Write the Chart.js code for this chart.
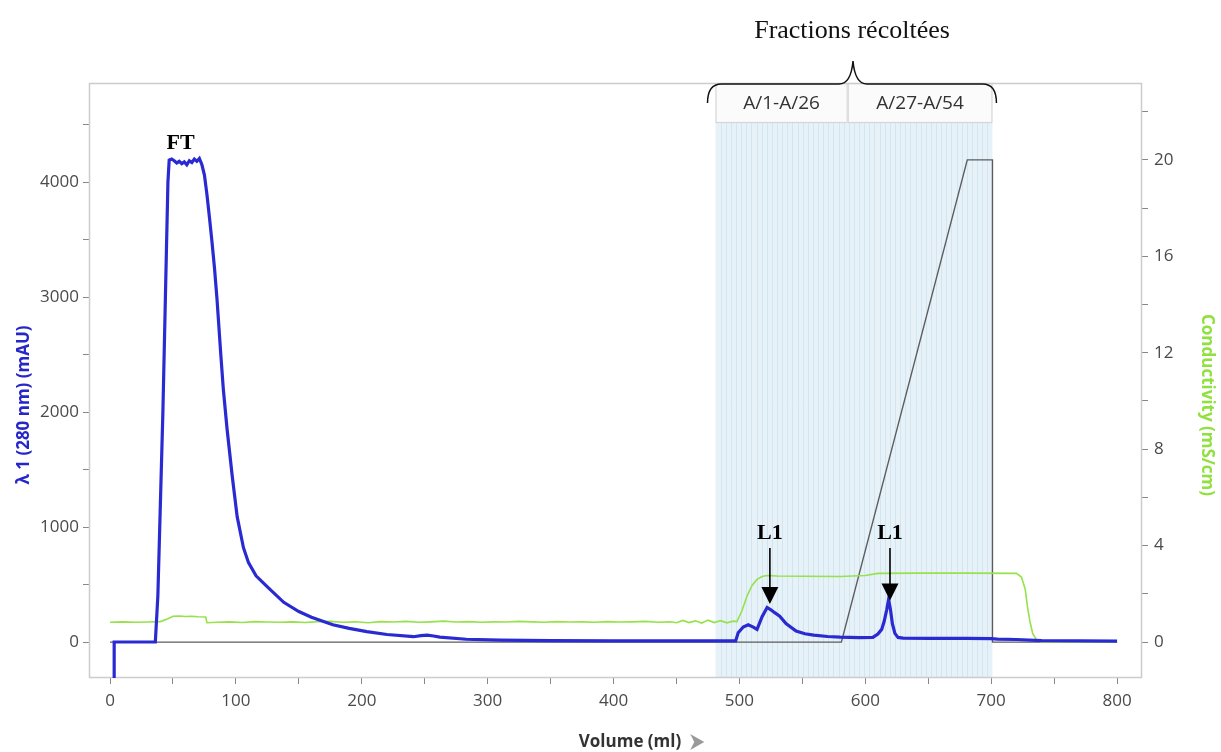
<!DOCTYPE html>
<html><head><meta charset="utf-8">
<script src="https://cdn.jsdelivr.net/npm/chart.js@4/dist/chart.umd.min.js"></script>
<style>html,body{margin:0;padding:0;background:#fff}#wrap{width:1221px;height:752px;position:relative}</style>
</head><body><div id="wrap"><canvas id="c"></canvas></div>
<script>
// ---- data ----
const uvVolume = [3.2,3.3,36,38,40,42,44,46,47,49,51,53,55,57,59,61,63,65,67,69,71,73,75,77,79,81,83,85,88,90,93,97,101,106,110,116,125,138,150,160,177,190,204,220,241,247,252,257,262,283,310,350,400,450,497,499,503,507,511,514,518,522,525,528,532,537,545,552,559,570,580,595,606,610,613,615,617,618.5,620,621.5,623.5,626,630,650,680,700,705,720,740,800];
const uvValue  = [-700,0,0,400,1200,2000,3000,4000,4190,4200,4185,4165,4180,4160,4175,4150,4185,4170,4200,4180,4205,4150,4060,3890,3690,3480,3250,2980,2500,2200,1850,1450,1090,820,690,575,480,345,265,215,150,118,90,65,46,55,60,52,42,24,16,12,10,10,10,80,130,150,130,110,220,300,280,255,225,160,95,72,60,48,42,38,40,70,110,180,280,370,280,160,75,40,34,32,32,30,25,22,12,8];
const condVolume = [0,10,20,30,40,46,50,55,60,65,70,76,77,85,95,105,115,125,135,145,155,165,175,185,195,205,215,225,235,245,255,265,275,285,295,305,315,325,335,345,355,365,375,385,395,405,415,425,435,445,450,455,460,465,470,475,480,485,490,495,498,502,506,510,514,518,522,530,550,580,600,610,640,680,720,724,727,729,731,733,736,740,800];
const condValue  = [0.82,0.84,0.82,0.83,0.85,0.97,1.07,1.08,1.06,1.07,1.05,1.04,0.80,0.82,0.84,0.81,0.85,0.83,0.82,0.84,0.81,0.85,0.86,0.82,0.84,0.80,0.85,0.83,0.86,0.82,0.84,0.87,0.83,0.85,0.82,0.84,0.83,0.86,0.84,0.82,0.85,0.83,0.84,0.82,0.85,0.83,0.84,0.86,0.82,0.84,0.80,0.90,0.81,0.88,0.79,0.91,0.81,0.89,0.80,0.87,0.85,1.30,1.90,2.35,2.60,2.72,2.76,2.74,2.73,2.72,2.76,2.85,2.86,2.86,2.85,2.70,2.20,1.40,0.80,0.35,0.10,0,0];
const gradVolume = [0,581,681,701,701.01,800];
const gradValue  = [0,0,20,20,0,0];

const xTicks = [0,50,100,150,200,250,300,350,400,450,500,550,600,650,700,750,800];
const xTickLabels = [0,100,200,300,400,500,600,700,800];
const leftTicks = [0,500,1000,1500,2000,2500,3000,3500,4000,4500];
const leftTickLabels = [0,1000,2000,3000,4000];
const rightTicks = [0,2,4,6,8,10,12,14,16,18,20,22];
const rightTickLabels = [0,4,8,12,16,20];

const fractionLabels = ['A/1-A/26','A/27-A/54'];
const fractionBounds = [481,586,701];
const fractionCount = 54;

const annotations = [
  {text:'FT', x:56, y:4340},
  {text:'L1', x:524.2, y:948, tail:817, tip:330},
  {text:'L1', x:619.6, y:948, tail:817, tip:360}
];
const topTitle = 'Fractions récoltées';
const leftTitle = 'λ 1 (280 nm) (mAU)';
const rightTitle = 'Conductivity (mS/cm)';
const xTitle = 'Volume (ml)';

const pts = (xs, ys) => xs.map((v,i)=>({x:v, y:ys[i]}));

const deco = {
  id:'deco',
  beforeDatasetsDraw(chart){
    const {ctx, chartArea:a, scales:{x}} = chart;
    const x0 = x.getPixelForValue(fractionBounds[0]);
    const x1 = x.getPixelForValue(fractionBounds[1]);
    const x2 = x.getPixelForValue(fractionBounds[2]);
    const boxTop = a.top, boxBottom = a.top + 40;
    ctx.save();
    ctx.fillStyle = '#e6f1f8';
    ctx.fillRect(x0, boxBottom, x2-x0, a.bottom-boxBottom);
    ctx.strokeStyle = '#d2e5f1'; ctx.lineWidth = 1;
    for (let i=1;i<fractionCount;i++){
      const v = fractionBounds[0] + (fractionBounds[2]-fractionBounds[0])*i/fractionCount;
      const px = Math.round(x.getPixelForValue(v))+0.5;
      ctx.beginPath(); ctx.moveTo(px, boxBottom); ctx.lineTo(px, a.bottom); ctx.stroke();
    }
    const boxes = [[x0,x1],[x1,x2]];
    ctx.font = '19px "Open Sans", sans-serif';
    ctx.textAlign='center'; ctx.textBaseline='middle';
    boxes.forEach((b,i)=>{
      ctx.fillStyle='#fbfbfb'; ctx.fillRect(b[0], boxTop, b[1]-b[0], boxBottom-boxTop);
      ctx.strokeStyle='#d6d6d6'; ctx.lineWidth=1.2;
      ctx.strokeRect(b[0]+0.5, boxTop+0.5, b[1]-b[0]-1, boxBottom-boxTop-1);
      ctx.fillStyle='#333';
      ctx.fillText(fractionLabels[i], (b[0]+b[1])/2, (boxTop+boxBottom)/2+1);
    });
    ctx.strokeStyle='#cccccc'; ctx.lineWidth=1.5;
    ctx.strokeRect(a.left+0.5, a.top+0.5, a.right-a.left-1, a.bottom-a.top-1);
    ctx.restore();
  },
  afterDraw(chart){
    const {ctx, chartArea:a, scales:{x,y}} = chart;
    ctx.save();
    ctx.textAlign='center'; ctx.textBaseline='middle';
    ctx.font='bold 17px "Open Sans", sans-serif';
    ctx.save(); ctx.translate(24, 405); ctx.rotate(-Math.PI/2);
    ctx.fillStyle='#2626c9'; ctx.fillText(leftTitle,0,0); ctx.restore();
    ctx.save(); ctx.translate(1207, 405); ctx.rotate(Math.PI/2);
    ctx.fillStyle='#90e040'; ctx.fillText(rightTitle,0,0); ctx.restore();
    ctx.fillStyle='#333'; ctx.font='bold 17px "Open Sans", sans-serif';
    const tw = ctx.measureText(xTitle).width;
    const cx = 630;
    ctx.fillText(xTitle, cx, 742);
    const ax = cx + tw/2 + 9;
    ctx.fillStyle='#9a9a9a';
    ctx.beginPath(); ctx.moveTo(ax,734); ctx.lineTo(ax+14,742); ctx.lineTo(ax,750); ctx.lineTo(ax+4,742); ctx.closePath(); ctx.fill();
    ctx.fillStyle='#111'; ctx.font='26px "Liberation Serif", "Times New Roman", serif';
    ctx.fillText(topTitle, 852, 31);
    const bl = x.getPixelForValue(fractionBounds[0]) - 8;
    const br = x.getPixelForValue(fractionBounds[2]) + 4;
    const bm = 853, by = 84;
    ctx.strokeStyle='#111'; ctx.lineWidth=1.5;
    ctx.beginPath();
    ctx.moveTo(bl, 103); ctx.quadraticCurveTo(bl, by, bl+14, by);
    ctx.lineTo(bm-14, by); ctx.quadraticCurveTo(bm-2, by, bm, 61);
    ctx.quadraticCurveTo(bm+2, by, bm+14, by);
    ctx.lineTo(br-14, by); ctx.quadraticCurveTo(br, by, br, 103);
    ctx.stroke();
    ctx.font='bold 22px "Liberation Serif", "Times New Roman", serif';
    annotations.forEach(an=>{
      const px = x.getPixelForValue(an.x), py = y.getPixelForValue(an.y);
      ctx.fillStyle='#000'; ctx.fillText(an.text, px, py);
      if (an.tip !== undefined){
        const t0 = y.getPixelForValue(an.tail), t1 = y.getPixelForValue(an.tip);
        ctx.strokeStyle='#000'; ctx.lineWidth=1.6;
        ctx.beginPath(); ctx.moveTo(px, t0); ctx.lineTo(px, t1-15); ctx.stroke();
        ctx.beginPath(); ctx.moveTo(px-8.5, t1-17); ctx.lineTo(px+8.5, t1-17); ctx.lineTo(px, t1); ctx.closePath(); ctx.fill();
      }
    });
    ctx.restore();
  }
};

const tickFont = {family:'"Open Sans", sans-serif', size:17};
const setTicks = vals => s => { s.ticks = vals.map(v => ({value:v})); };

new Chart(document.getElementById('c'), {
  type:'line',
  data:{ datasets:[
    {label:'UV', data:pts(uvVolume, uvValue), borderColor:'#2a2ad2', borderWidth:3.2, yAxisID:'y', order:0, pointRadius:0},
    {label:'Cond', data:pts(condVolume, condValue), borderColor:'#95e24a', borderWidth:1.6, yAxisID:'y2', order:1, pointRadius:0},
    {label:'Grad', data:pts(gradVolume, gradValue), borderColor:'#5c5c5c', borderWidth:1.4, yAxisID:'y2', order:2, pointRadius:0}
  ]},
  options:{
    responsive:true, maintainAspectRatio:false, animation:false,
    layout:{padding:{top:83,left:0,right:0,bottom:0}},
    plugins:{legend:{display:false}, tooltip:{enabled:false}},
    elements:{line:{tension:0}, point:{radius:0}},
    scales:{
      x:{type:'linear', position:'bottom', min:-16.7, max:819.8,
         afterBuildTicks:setTicks(xTicks),
         ticks:{autoSkip:false, maxRotation:0, color:'#4a4a4a', font:{family:'"Open Sans",sans-serif', size:17}, padding:7,
                callback:v => xTickLabels.includes(v) ? String(v) : ''},
         grid:{drawOnChartArea:false, drawTicks:true, tickLength:6, color:'#888'},
         border:{display:false},
         afterFit:s=>{s.height=74;}},
      y:{type:'linear', position:'left', min:-313, max:4861,
         afterBuildTicks:setTicks(leftTicks),
         ticks:{autoSkip:false, color:'#4a4a4a', font:tickFont, padding:4,
                callback:v => leftTickLabels.includes(v) ? String(v) : ''},
         grid:{drawOnChartArea:false, drawTicks:true, tickLength:6, color:'#888'},
         border:{display:false},
         afterFit:s=>{s.width=89;}},
      y2:{type:'linear', position:'right', min:-1.49, max:23.19,
         afterBuildTicks:setTicks(rightTicks),
         ticks:{autoSkip:false, color:'#4a4a4a', font:tickFont, padding:6,
                callback:v => rightTickLabels.includes(v) ? String(v) : ''},
         grid:{drawOnChartArea:false, drawTicks:true, tickLength:6, color:'#888'},
         border:{display:false},
         afterFit:s=>{s.width=79;}}
    }
  },
  plugins:[deco]
});
</script></body></html>
